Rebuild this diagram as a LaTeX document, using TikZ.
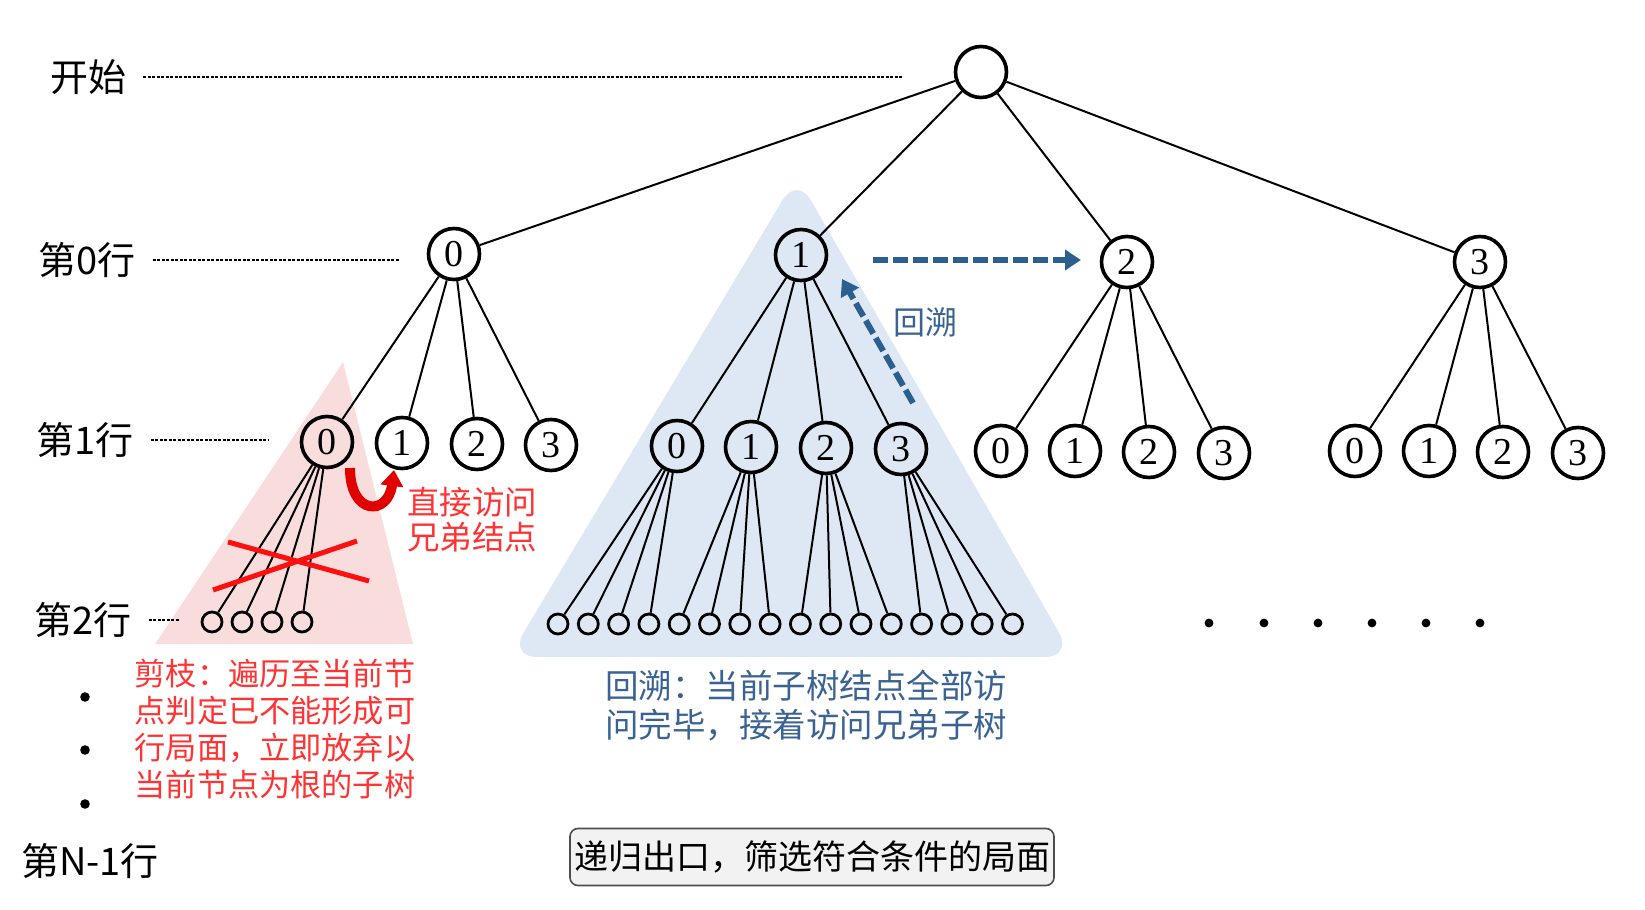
\documentclass[tikz,border=0pt]{standalone}
\usepackage{fontspec}
\setmainfont{Liberation Serif}
\newfontfamily\cjk{Noto Sans CJK SC}
\usetikzlibrary{arrows.meta}

\definecolor{pruneBack}{HTML}{F9DCDC}
\definecolor{traceBack}{HTML}{DEE8F4}
\definecolor{traceArrow}{HTML}{2A5F90}
\definecolor{traceText}{HTML}{3A6393}
\definecolor{pruneText}{HTML}{FF3333}
\definecolor{pruneMark}{HTML}{FF1010}
\definecolor{jumpRed}{HTML}{E00000}
\definecolor{exitFill}{HTML}{F2F2F2}

\begin{document}
\begin{tikzpicture}
[x=0.5pt,y=-0.5pt,
  lineDecorate/.style={-,line width=1pt},
  nodeDecorate/.style={shape=circle,inner sep=0pt,minimum size=25.5pt,draw,line width=1.8pt,font=\fontsize{19}{19}\selectfont},
  leafDecorate/.style={shape=circle,inner sep=0pt,minimum size=10pt,draw,line width=1.4pt},
  rowLabel/.style={font=\cjk\fontsize{19}{19}\selectfont},
  rowLine/.style={line width=0.6pt,dash pattern=on 1.5pt off 0.75pt},
  traceDecorate/.style={traceArrow,line width=3pt,dash pattern=on 7.5pt off 2.5pt,-{Triangle[length=8pt,width=10pt]}},
  jumpDecorate/.style={jumpRed,line width=5pt,-{Triangle[length=8pt,width=11pt]}},
  noteDecorate/.style={align=left,inner sep=0pt},
  exitDecorate/.style={draw=black!70,fill=exitFill,rounded corners=4pt,line width=0.8pt,
    font=\cjk\fontsize{17}{17}\selectfont,minimum width=242pt,minimum height=28.5pt,inner sep=2pt}]
\path[use as bounding box,fill=white] (0,0) rectangle (1645,910);
%% shaded subtrees
\fill[pruneBack] (343,362) -- (155,644) -- (413,644) -- cycle;
\fill[traceBack,rounded corners=14pt] (797,176) -- (509,657) -- (1073,657) -- cycle;
%% row labels
\foreach \labname/\x/\y/\txt/\ex in {
  lbStart/88/77/开始/902, lbRow0/87/260/第0行/400,
  lbRow1/85/440/第1行/269, lbRow2/83/620/第2行/180}
{
  \node[rowLabel] (\labname) at (\x,\y) {\txt};
  \coordinate (\labname-end) at (\ex,\y);
  \draw[rowLine] ([xshift=5pt]\labname.east) -- (\labname-end);
}
\node[rowLabel] (lbLast) at (90,861) {第N-1行};
%% nodes or vertices
\node (start) at (981,72) [nodeDecorate] {};
\foreach \nodename/\x/\y/\digit in {
  r0/454/254/0, r1/801/255/1, r2/1127/262/2, r3/1480/262/3,
  r00/327/442/0, r01/402/443/1, r02/477/444/2, r03/551/445/3,
  r10/677/446/0, r11/751/447/1, r12/826/448/2, r13/901/449/3,
  r20/1001/451/0, r21/1075/451/1, r22/1149/452/2, r23/1224/453/3,
  r30/1355/451/0, r31/1429/451/1, r32/1503/452/2, r33/1578/453/3}
{
  \node (\nodename) at (\x,\y) [nodeDecorate] {\digit};
}
\foreach \i/\x in {0/212, 1/242, 2/272, 3/302}
  \node (p\i) at (\x,622) [leafDecorate] {};
\foreach \i in {0,...,15}
  \node (q\i) at ({558+30.3*\i},624) [leafDecorate] {};
%% edges or lines
\path
\foreach \startnode/\endnode in {
  start/r0, start/r1, start/r2, start/r3,
  r0/r00, r0/r01, r0/r02, r0/r03, r1/r10, r1/r11, r1/r12, r1/r13,
  r2/r20, r2/r21, r2/r22, r2/r23, r3/r30, r3/r31, r3/r32, r3/r33,
  r00/p0, r00/p1, r00/p2, r00/p3}
{
  (\startnode) edge[lineDecorate] (\endnode)
};
\foreach \j in {0,...,3}
  \foreach \k in {0,...,3}
  {
    \pgfmathtruncatemacro{\leaf}{4*\j+\k}
    \draw[lineDecorate] (r1\j) -- (q\leaf);
  }
%% pruning mark and jump to sibling
\draw[pruneMark,line width=2.5pt] (228,542) -- (369,581) (213,590) -- (357,541);
\coordinate (jumpFrom) at (350,468);
\coordinate (jumpTo) at (394,470);
\draw[jumpDecorate] (jumpFrom) .. controls +(0,48) and +(-6,46) .. (jumpTo);
\node[noteDecorate,text=pruneText,font=\cjk\fontsize{16.25}{17.5}\selectfont] (jumpNote) at (472,520) {直接访问\\兄弟结点};
\node[noteDecorate,text=pruneText,font=\cjk\fontsize{15.6}{18.5}\selectfont] (pruneNote) at (275,729)
  {剪枝：遍历至当前节\\点判定已不能形成可\\行局面，立即放弃以\\当前节点为根的子树};
%% backtracking
\coordinate (backFrom) at (913,403);
\coordinate (backTo) at (842,279);
\coordinate (nextFrom) at (873,260);
\coordinate (nextTo) at (1081,260);
\draw[traceDecorate] (backFrom) -- (backTo);
\draw[traceDecorate] (nextFrom) -- (nextTo);
\node[text=traceText,font=\cjk\fontsize{16}{16}\selectfont] (backLabel) at (925,322) {回溯};
\node[noteDecorate,text=traceText,font=\cjk\fontsize{16.75}{19.5}\selectfont] (traceNote) at (806,706)
  {回溯：当前子树结点全部访\\问完毕，接着访问兄弟子树};
%% more rows
\foreach \y in {697,750,804}
  \fill (85,\y) circle (2.4pt);
\foreach \x in {1209,1264,1318,1372,1426,1480}
  \fill (\x,623) circle (2.2pt);
\node[exitDecorate] (exitNote) at (812,857) {递归出口，筛选符合条件的局面};
\end{tikzpicture}
\end{document}
